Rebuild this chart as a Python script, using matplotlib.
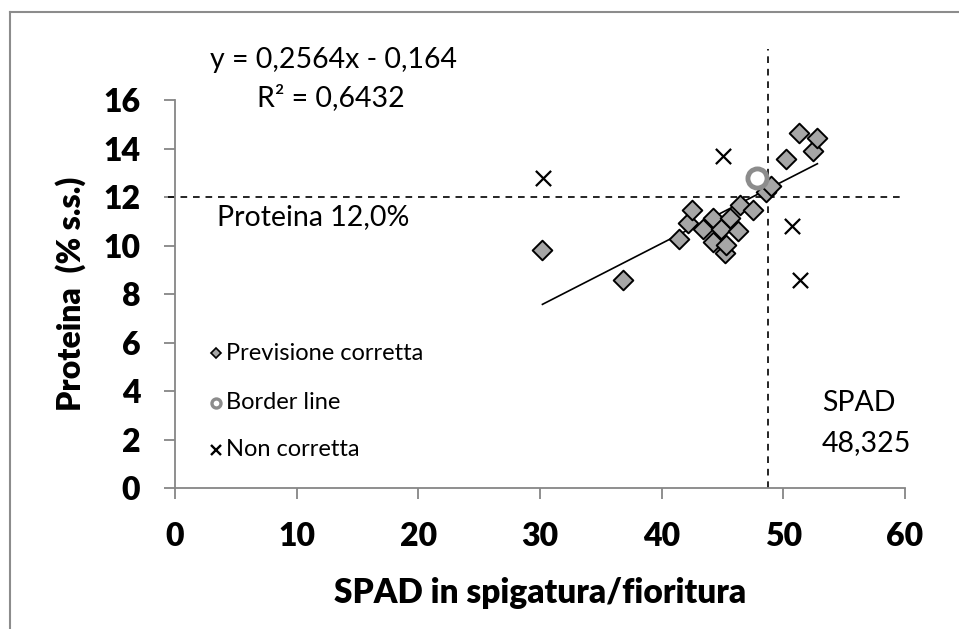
import matplotlib
matplotlib.use("Agg")
import matplotlib.pyplot as plt
from matplotlib.lines import Line2D
import numpy as np

# ---- data ----
corretta_x = [30.2, 36.8, 41.4, 42.2, 42.5, 43.4, 44.2, 44.2, 44.9, 45.2, 45.3, 45.6,
              46.3, 46.4, 47.5, 48.6, 49.0, 50.2, 51.3, 52.45, 52.8]
corretta_y = [9.81, 8.58, 10.26, 10.92, 11.45, 10.67, 11.12, 10.16, 10.67, 9.70, 10.02, 11.12,
              10.61, 11.67, 11.46, 12.22, 12.46, 13.55, 14.66, 13.91, 14.42]
border_x = [47.85]
border_y = [12.80]
non_x = [30.25, 45.0, 50.7, 51.35]
non_y = [12.80, 13.69, 10.80, 8.58]

slope, intercept = 0.2564, -0.164
r2 = 0.6432
soglia_proteina = 12.0
soglia_spad = 48.75  # position of the drawn line in the picture (label 48,325)

xticks = [0, 10, 20, 30, 40, 50, 60]
yticks = [0, 2, 4, 6, 8, 10, 12, 14, 16]

FONT = "Lato"
BOLD = "heavy"
W, H = 959, 629
fig = plt.figure(figsize=(W / 100, H / 100), dpi=100)
ax = fig.add_axes([175 / W, 1 - 488.3 / H, (905 - 175) / W, (488.3 - 100) / H])

ax.set_xlim(0, 60)
ax.set_ylim(0, 16)
ax.set_xticks(xticks)
ax.set_yticks(yticks)
ax.set_xticklabels([str(t) for t in xticks], fontfamily=FONT, fontweight=BOLD, fontsize=23)
ax.set_yticklabels([str(t) for t in yticks], fontfamily=FONT, fontweight=BOLD, fontsize=23)
for s in ["top", "right"]:
    ax.spines[s].set_visible(False)
for s in ["left", "bottom"]:
    ax.spines[s].set_color("#868686")
    ax.spines[s].set_linewidth(1.3)
ax.tick_params(axis="both", direction="out", length=8, width=1.3, color="#868686")
ax.tick_params(axis="x", pad=16)
ax.tick_params(axis="y", pad=17)

ax.set_xlabel("SPAD in spigatura/fioritura", fontfamily=FONT, fontweight=BOLD, fontsize=24, labelpad=19)
ax.set_ylabel("Proteina  (% s.s.)", fontfamily=FONT, fontweight=BOLD, fontsize=23, labelpad=12)

# dashed threshold lines (extend beyond plot area as in the picture)
ax.plot([-0.6, 59.6], [soglia_proteina, soglia_proteina], ls=(0, (4, 3.5)), color="black",
        lw=1.2, clip_on=False, zorder=2)
ax.plot([soglia_spad, soglia_spad], [0, 18.1], ls=(0, (4, 3.5)), color="black",
        lw=1.2, clip_on=False, zorder=2)

# trendline
tx = np.array([min(corretta_x), max(corretta_x)])
ax.plot(tx, slope * tx + intercept, color="black", lw=1.2, zorder=3)

ax.scatter(corretta_x, corretta_y, marker="D", s=100, facecolor="#a6a6a6",
           edgecolor="black", linewidth=1.4, zorder=4, clip_on=False)
ax.scatter(non_x, non_y, marker="x", s=120, color="black", linewidth=1.6, zorder=4)
ax.scatter(border_x, border_y, marker="o", s=190, facecolor="white",
           edgecolor="#8c8c8c", linewidth=3.5, zorder=5)

# texts
TS = 20.5
ax.text(333 / W, 1 - 60 / H, "y = 0,2564x - 0,164", transform=fig.transFigure,
        ha="center", va="center", fontfamily=FONT, fontsize=TS)
ax.text(331 / W, 1 - 98 / H, "R² = 0,6432", transform=fig.transFigure,
        ha="center", va="center", fontfamily=FONT, fontsize=TS)
ax.text(217 / W, 1 - 217 / H, "Proteina 12,0%", transform=fig.transFigure,
        ha="left", va="center", fontfamily=FONT, fontsize=TS)
ax.text(822 / W, 1 - 403 / H, "SPAD", transform=fig.transFigure,
        ha="left", va="center", fontfamily=FONT, fontsize=TS)
ax.text(822 / W, 1 - 443 / H, "48,325", transform=fig.transFigure,
        ha="left", va="center", fontfamily=FONT, fontsize=TS)

# legend-like labels
leg = [("Previsione corretta", 353), ("Border line", 402.7), ("Non corretta", 450)]
fig.add_artist(Line2D([216 / W], [1 - 353 / H], marker="D", ms=5.5, mfc="#a6a6a6", mec="black",
                      mew=1.2, ls="none", transform=fig.transFigure))
fig.add_artist(Line2D([216 / W], [1 - 402.7 / H], marker="o", ms=6.5, mfc="white", mec="#8c8c8c",
                      mew=2.4, ls="none", transform=fig.transFigure))
fig.add_artist(Line2D([216 / W], [1 - 450 / H], marker="x", ms=6.5, mec="black",
                      mew=1.7, ls="none", transform=fig.transFigure))
for label, yy in leg:
    fig.text(226 / W, 1 - yy / H, label, ha="left", va="center", fontfamily=FONT, fontsize=17)

# outer chart border (top and left visible)
fig.add_artist(Line2D([10 / W, 1.0], [1 - 12 / H, 1 - 12 / H], color="#8c8c8c", lw=1.5,
                      transform=fig.transFigure))
fig.add_artist(Line2D([10 / W, 10 / W], [1 - 12 / H, 0.0], color="#8c8c8c", lw=1.5,
                      transform=fig.transFigure))

fig.savefig("out.png", dpi=100)
